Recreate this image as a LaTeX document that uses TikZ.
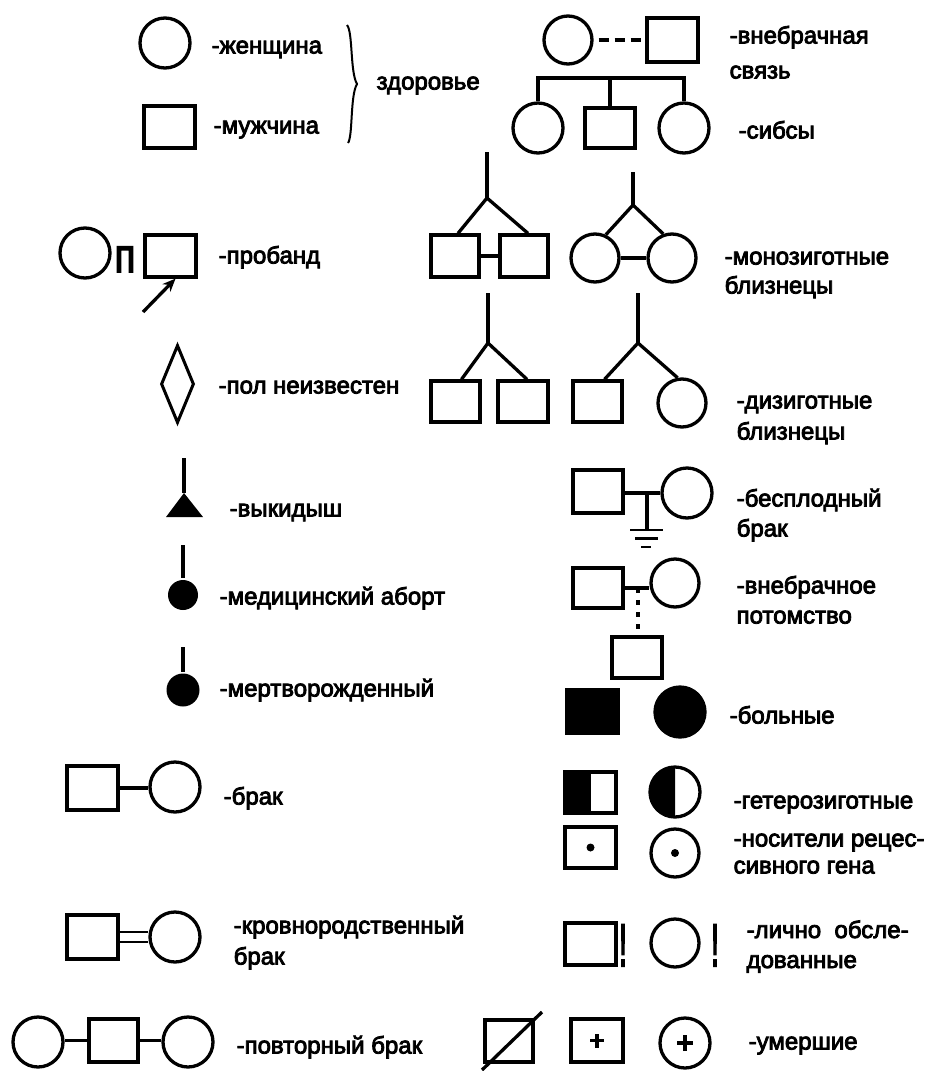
\documentclass[tikz,border=0pt]{standalone}
\usepackage{fontspec}
\setmainfont{Liberation Sans}[FakeBold=3.5]
\usetikzlibrary{shapes.geometric,arrows.meta}

\begin{document}
\begin{tikzpicture}[x=1pt, y=-1pt, line width=3.3pt,
  lbl/.style={font=\fontsize{24}{28}\selectfont, inner sep=0pt, anchor=base west},
  sq/.style={draw, rectangle, minimum width=50pt, minimum height=42pt, inner sep=0pt},
  ci/.style={draw, circle, minimum size=50pt, inner sep=0pt},
  blob/.style={circle, fill, inner sep=0pt},
  excl/.style={inner sep=0pt, anchor=base, font=\fontsize{60}{60}\selectfont},
  gnd/.style={line width=2.8pt},
]
\useasboundingbox (0,0) rectangle (926,1071);

% ---------- left column ----------
% woman / man
\node[ci] (f1) at (165,43) {};
\node[sq, minimum width=51pt] (m1) at (169.5,127) {};
\node[lbl] (tf1) at (210,53.5) {-женщина};
\node[lbl] (tm1) at (212,133.5) {-мужчина};
\draw[line width=2pt] (347,25) .. controls (353,32) and (350,72) .. (357,84)
  .. controls (350,96) and (353,136) .. (348,143);
\node[lbl] (thl) at (375,89.5) {здоровье};

% proband
\node[ci] (pc) at (85,253) {};
\node[inner sep=0pt, anchor=base, font=\fontsize{48}{48}\selectfont] (pl) at (125,272) {\scalebox{0.8}[1]{п}};
\node[sq, minimum width=51pt] (ps) at (170.5,256) {};
\coordinate (pa) at (143,312);
\draw[-{Stealth[length=13pt,width=11pt]}] (pa) -- ([xshift=5pt]ps.south);
\node[lbl] (tpr) at (217,263.5) {-пробанд};

% sex unknown
\node[draw, diamond, minimum width=33pt, minimum height=78pt, inner sep=0pt, line width=3pt] (dm) at (177.5,384) {};
\node[lbl] (tdm) at (217,393.5) {-пол неизвестен};

% miscarriage
\coordinate (mt) at (184,458);
\coordinate (ma) at (184,493);
\fill (ma) -- (203,517) -- (166,517) -- cycle;
\draw (mt) -- (ma);
\node[lbl] (tmc) at (228,516.5) {-выкидыш};

% induced abortion
\node[blob, minimum size=30pt] (ab) at (183,595) {};
\coordinate (abt) at (183,545);
\draw (abt) -- (ab);
\node[lbl] (tab) at (218,604.5) {-медицинский аборт};

% stillborn
\node[blob, minimum size=33pt] (sb) at (183,690) {};
\coordinate (sbt) at (183,647);
\draw (sbt) -- (sb);
\node[lbl] (tsb) at (218,696.5) {-мертворожденный};

% marriage
\node[sq, minimum width=51pt, minimum height=44pt] (mm) at (92.5,788) {};
\node[ci] (mw) at (175,787) {};
\draw (mm.east) -- (mm.east -| mw.west);
\node[lbl] (tmm) at (222,804.5) {-брак};

% consanguineous marriage
\node[sq, minimum width=51pt, minimum height=44pt] (km) at (92.5,937) {};
\node[ci] (kw) at (175,937) {};
\draw[line width=2.8pt] ([yshift=5pt]km.east) -- ([yshift=5pt]kw.west);
\draw[line width=2.8pt] ([yshift=-5pt]km.east) -- ([yshift=-5pt]kw.west);
\node[lbl] (tkm1) at (232,933.5) {-кровнородственный};
\node[lbl] (tkm2) at (232,964.5) {брак};

% repeated marriage
\node[ci] (r1) at (38,1042) {};
\node[sq, minimum width=49pt, minimum height=43pt] (rm) at (113.5,1040.5) {};
\node[ci] (r2) at (188,1042) {};
\draw (r1.east |- rm.east) -- (rm.west);
\draw (rm.east) -- (rm.east -| r2.west);
\node[lbl] (trm) at (235,1053.5) {-повторный брак};

% ---------- right column ----------
% extramarital relationship and sibs
\node[ci, minimum size=48pt] (ew) at (568,40) {};
\node[sq, minimum width=51pt, minimum height=44pt] (em) at (672.5,40) {};
\draw[dash pattern=on 10pt off 6pt, dash phase=11pt] (ew.east) -- (em.west);
\node[lbl] (tew1) at (728,43.5) {-внебрачная};
\node[lbl] (tew2) at (728,78.5) {связь};

\node[ci] (s1) at (538,128) {};
\node[sq, minimum width=50pt, minimum height=40pt] (s2) at (610,128) {};
\node[ci] (s3) at (684,128) {};
\coordinate (sl) at (538,78);
\coordinate (sr) at (684,78);
\draw (s1.north) -- (sl) -- (sr) -- (s3.north);
\draw (s2.north) -- (s2.north |- sl);
\node[lbl] (tsi) at (737,138.5) {-сибсы};

% monozygotic twins
\node[sq, minimum width=48pt] (z1) at (455,256) {};
\node[sq, minimum width=48pt] (z2) at (524,256) {};
\coordinate (zt) at (487,152);
\coordinate (zj) at (487,198);
\draw (zt) -- (zj);
\draw ([xshift=3pt]z1.north) -- (zj) -- ([xshift=4pt]z2.north);
\draw (z1.east) -- (z2.west);
\node[ci, minimum size=48pt] (y1) at (595,258) {};
\node[ci, minimum size=48pt] (y2) at (672,258) {};
\coordinate (yt) at (633,172);
\coordinate (yj) at (633,205);
\draw (yt) -- (yj);
\draw (y1.65) -- (yj) -- (y2.110);
\draw (y1.east) -- (y2.west);
\node[lbl] (tmz1) at (723,264.5) {-монозиготные};
\node[lbl] (tmz2) at (723,293.5) {близнецы};

% dizygotic twins
\node[sq, minimum width=49pt, minimum height=41pt] (d1) at (455.5,401.5) {};
\node[sq, minimum width=50pt, minimum height=41pt] (d2) at (523,401.5) {};
\coordinate (dt) at (488,293);
\coordinate (dj) at (488,343);
\draw (dt) -- (dj);
\draw ([xshift=6pt]d1.north) -- (dj) -- ([xshift=4pt]d2.north);
\node[sq, minimum width=49pt, minimum height=41pt] (d3) at (597.5,401.5) {};
\node[ci, minimum size=48pt] (d4) at (682,403) {};
\coordinate (et) at (638,293);
\coordinate (ej) at (638,343);
\draw (et) -- (ej);
\draw ([xshift=7pt]d3.north) -- (ej) -- (d4.100);
\node[lbl] (tdz1) at (735,408.5) {-дизиготные};
\node[lbl] (tdz2) at (735,439.5) {близнецы};

% childless marriage
\node[sq, minimum width=50pt, minimum height=43pt] (bm) at (598,491.5) {};
\node[ci] (bw) at (687,493) {};
\coordinate (bj) at (647,493);
\coordinate (bg) at (647,530);
\draw (bm.east |- bw) -- (bw.west);
\draw (bj) -- (bg);
\draw[gnd] (630,530) -- (663,530);
\draw[gnd] (635,538.5) -- (658,538.5);
\draw[gnd] (641,547) -- (651,547);
\node[lbl] (tbm1) at (735,506.5) {-бесплодный};
\node[lbl] (tbm2) at (735,536.5) {брак};

% extramarital offspring
\node[sq, minimum width=50pt, minimum height=40pt] (om) at (598,588) {};
\node[ci, minimum size=48pt] (ow) at (675,583) {};
\coordinate (oj) at (638,588);
\draw (om.east) -- (om.east -| ow.west);
\node[sq, minimum width=50pt, minimum height=41pt] (oc) at (637,657.5) {};
\draw[dash pattern=on 5pt off 7pt] (oj) -- (oj |- oc.north);
\node[lbl] (tom1) at (735,593.5) {-внебрачное};
\node[lbl] (tom2) at (735,623.5) {потомство};

% affected
\node[sq, fill, minimum width=51pt, minimum height=43pt] (am) at (592.5,711.5) {};
\node[ci, fill] (aw) at (680,712) {};
\node[lbl] (taf) at (728,723.5) {-больные};

% heterozygous
\node[sq, minimum width=51pt, minimum height=41pt] (hm) at (590.5,792.5) {};
\fill (hm.north west) rectangle (hm.south);
\node[ci] (hw) at (675,792) {};
\begin{scope}
  \clip ([shift={(-30pt,-30pt)}]hw.center) rectangle ([yshift=30pt]hw.center);
  \fill (hw.center) circle[radius=25pt];
\end{scope}
\node[lbl] (thz) at (732,808.5) {-гетерозиготные};

% carriers of a recessive gene
\node[sq, minimum width=51pt, minimum height=41pt] (cm) at (590.5,847.5) {};
\fill (cm.center) circle[radius=4pt];
\node[ci, minimum size=48pt] (cw) at (675,853) {};
\fill (cw.center) circle[radius=4pt];
\node[lbl] (tcr1) at (732,846.5) {-носители рецес-};
\node[lbl] (tcr2) at (732,873.5) {сивного гена};

% personally examined
\node[sq, minimum width=51pt, minimum height=42pt] (xm) at (590.5,944) {};
\node[excl] (x1) at (623,966) {\scalebox{0.5}[1]{!}};
\node[ci, minimum size=48pt] (xw) at (675,943) {};
\node[excl] (x2) at (715,966) {\scalebox{0.5}[1]{!}};
\node[lbl] (tex1) at (745,938) {-лично\ \ обсле-};
\node[lbl] (tex2) at (745,968) {дованные};

% deceased
\node[sq, minimum width=48pt] (dd1) at (509,1041) {};
\coordinate (ds1) at (482,1070);
\coordinate (ds2) at (542,1012);
\draw (ds1) -- (ds2);
\node[sq, minimum width=52pt, minimum height=43pt] (dd2) at (597,1040.5) {};
\draw ([xshift=-7pt]dd2.center) -- ([xshift=7pt]dd2.center);
\draw ([yshift=-7pt]dd2.center) -- ([yshift=7pt]dd2.center);
\node[ci] (dd3) at (685,1043) {};
\draw ([xshift=-8pt]dd3.center) -- ([xshift=8pt]dd3.center);
\draw ([yshift=-8pt]dd3.center) -- ([yshift=8pt]dd3.center);
\node[lbl] (tdd) at (747,1049.5) {-умершие};
\end{tikzpicture}
\end{document}
